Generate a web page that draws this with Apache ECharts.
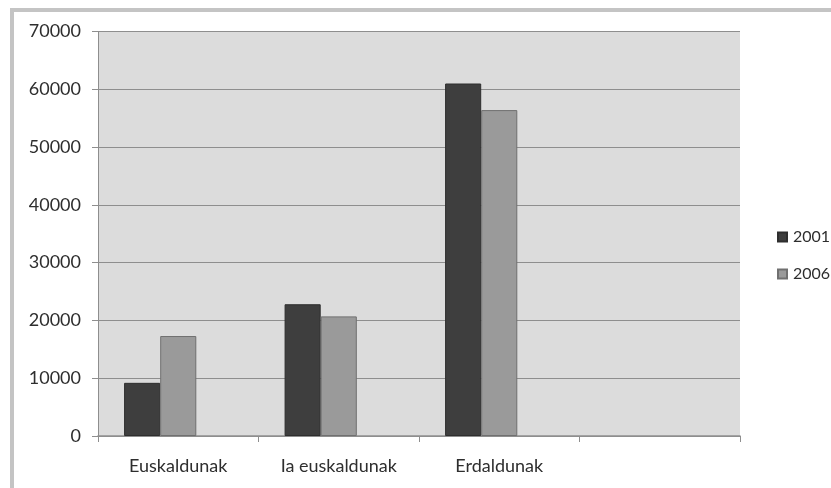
<!DOCTYPE html>
<html>
<head>
<meta charset="utf-8">
<style>
  html, body { margin: 0; padding: 0; background: #ffffff; }
  #chart { width: 831px; height: 488px; }
</style>
<script src="https://cdn.jsdelivr.net/npm/echarts@6/dist/echarts.min.js"></script>
</head>
<body>
<div id="chart"></div>
<script>
// Speaker counts by language group
const categories = ['Euskaldunak', 'Ia euskaldunak', 'Erdaldunak', ''];
const values2001 = [9200, 22800, 61000, null];
const values2006 = [17300, 20700, 56400, null];
const valuesEmpty = [null, null, null, null]; // reserved third slot per group
const seriesNames = ['2001', '2006'];

const FONT = 'Lato, "Open Sans", sans-serif';
const chart = echarts.init(document.getElementById('chart'), null, { renderer: 'canvas' });

chart.setOption({
  animation: false,
  backgroundColor: '#ffffff',
  textStyle: { fontFamily: FONT },
  graphic: [{
    type: 'rect',
    shape: { x: 12, y: 10, width: 900, height: 600 },
    style: { fill: 'none', stroke: '#c4c4c4', lineWidth: 4 },
    silent: true,
    z: 100
  }],
  grid: { left: 98, top: 31.5, right: 91, bottom: 52, containLabel: false,
          show: true, backgroundColor: '#dcdcdc', borderWidth: 0 },
  legend: {
    orient: 'vertical', left: 772, top: 224,
    itemWidth: 9, itemHeight: 9, itemGap: 21,
    icon: 'rect',
    textStyle: { fontFamily: FONT, fontSize: 16, color: '#2e2e2e', padding: [0, 0, 0, 1] },
    data: seriesNames
  },
  xAxis: {
    type: 'category',
    data: categories,
    axisLine: { lineStyle: { color: '#8e8e8e', width: 1.5 } },
    axisTick: { show: true, length: 6, lineStyle: { color: '#8e8e8e' } },
    axisLabel: { fontFamily: FONT, fontSize: 18, color: '#2e2e2e', margin: 21 },
    splitLine: { show: false }
  },
  yAxis: {
    type: 'value',
    min: 0, max: 70000, interval: 10000,
    axisLine: { show: true, lineStyle: { color: '#8e8e8e', width: 1 } },
    axisTick: { show: true, length: 6, lineStyle: { color: '#8e8e8e' } },
    axisLabel: { fontFamily: FONT, fontSize: 18, color: '#2e2e2e', margin: 17,
                 formatter: v => String(v) },
    splitLine: { show: true, lineStyle: { color: '#8e8e8e', width: 1.2 } }
  },
  series: [
    {
      name: seriesNames[0], type: 'bar', data: values2001,
      barGap: '0%', barCategoryGap: '32.5%',
      itemStyle: { color: '#3e3e3e', borderColor: '#2e2e2e', borderWidth: 1 }
    },
    {
      name: seriesNames[1], type: 'bar', data: values2006,
      itemStyle: { color: '#9a9a9a', borderColor: '#707070', borderWidth: 1 }
    },
    {
      name: 'empty', type: 'bar', data: valuesEmpty
    }
  ]
});
</script>
</body>
</html>
